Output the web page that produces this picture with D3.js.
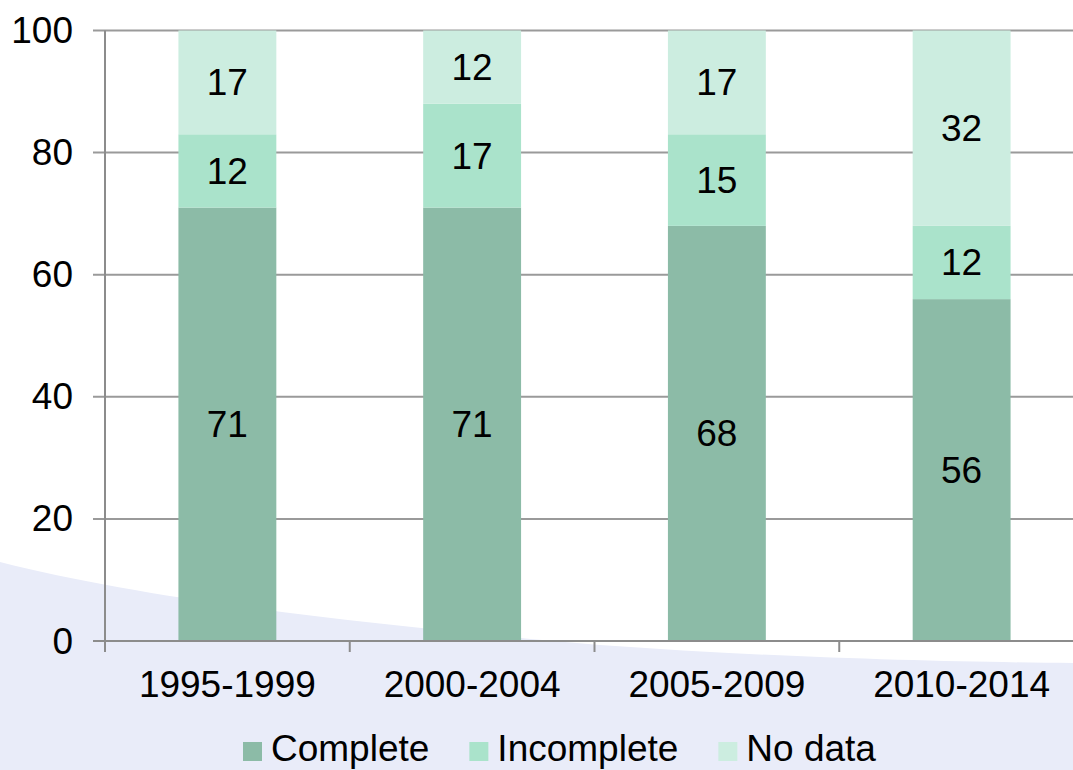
<!DOCTYPE html>
<html>
<head>
<meta charset="utf-8">
<script src="https://cdn.jsdelivr.net/npm/d3@7/dist/d3.min.js"></script>
<style>
  html, body { margin: 0; padding: 0; background: #ffffff; }
  svg { display: block; font-family: "Liberation Sans", Arial, sans-serif; }
</style>
</head>
<body>
<svg id="chart" width="1073" height="770"></svg>
<script>
// Share of records by data completeness, per five-year period
const periods = ["1995-1999", "2000-2004", "2005-2009", "2010-2014"];
const seriesNames = ["Complete", "Incomplete", "No data"];
const complete = [71, 71, 68, 56];
const incomplete = [12, 17, 15, 12];
const noData = [17, 12, 17, 32];
const yTicks = [0, 20, 40, 60, 80, 100];
const colors = ["#8cbba7", "#aae3cb", "#ccede0"];

const width = 1073, height = 770;
const plot = { left: 105, right: 1084, top: 30.5, bottom: 641 };
const fontSize = 37;

const svg = d3.select("#chart");

// soft lavender backdrop sweeping across the lower part of the page
svg.append("path")
  .attr("d", "M0,562 C150,600 360,624 600,645 C780,658 950,662 1073,663 L1073,770 L0,770 Z")
  .attr("fill", "#e9ecf9");

const table = periods.map((p, i) => ({
  period: p,
  "Complete": complete[i],
  "Incomplete": incomplete[i],
  "No data": noData[i]
}));

const stacked = d3.stack().keys(seriesNames)(table);

const x = d3.scaleBand()
  .domain(periods)
  .range([plot.left, plot.right])
  .paddingInner(0.6)
  .paddingOuter(0.3);

const y = d3.scaleLinear()
  .domain([0, 100])
  .range([plot.bottom, plot.top]);

// horizontal gridlines with short ticks to the left of the axis
const grid = svg.append("g");
grid.selectAll("line")
  .data(yTicks.filter(t => t > 0))
  .join("line")
  .attr("x1", plot.left - 12)
  .attr("x2", width)
  .attr("y1", d => y(d))
  .attr("y2", d => y(d))
  .attr("stroke", "#9a9a9a")
  .attr("stroke-width", 2);

// stacked bars
const layers = svg.append("g")
  .selectAll("g")
  .data(stacked)
  .join("g")
  .attr("fill", (d, i) => colors[i]);

layers.selectAll("rect")
  .data(d => d)
  .join("rect")
  .attr("x", d => x(d.data.period))
  .attr("width", x.bandwidth())
  .attr("y", d => y(d[1]))
  .attr("height", d => y(d[0]) - y(d[1]));

// value labels centred in each segment
layers.selectAll("text")
  .data(d => d.map(v => ({ v, key: d.key })))
  .join("text")
  .attr("x", d => x(d.v.data.period) + x.bandwidth() / 2)
  .attr("y", d => (y(d.v[0]) + y(d.v[1])) / 2 + 13)
  .attr("text-anchor", "middle")
  .attr("font-size", fontSize)
  .attr("fill", "#000")
  .text(d => d.v.data[d.key]);

// y axis
const yAxis = svg.append("g");
yAxis.append("line")
  .attr("x1", plot.left).attr("x2", plot.left)
  .attr("y1", y(100)).attr("y2", plot.bottom + 11)
  .attr("stroke", "#8c8c8c").attr("stroke-width", 2);
yAxis.selectAll("text")
  .data(yTicks)
  .join("text")
  .attr("x", 73)
  .attr("y", d => y(d) + 12.5)
  .attr("text-anchor", "end")
  .attr("font-size", fontSize)
  .attr("fill", "#000")
  .text(d => d);

// x axis baseline, boundary ticks and category labels
const xAxis = svg.append("g");
xAxis.append("line")
  .attr("x1", plot.left - 12).attr("x2", width)
  .attr("y1", plot.bottom).attr("y2", plot.bottom)
  .attr("stroke", "#8c8c8c").attr("stroke-width", 2);
xAxis.selectAll("line.tick")
  .data(periods.slice(1))
  .join("line")
  .attr("class", "tick")
  .attr("x1", d => x(d) - x.step() * x.paddingInner() / 2)
  .attr("x2", d => x(d) - x.step() * x.paddingInner() / 2)
  .attr("y1", plot.bottom).attr("y2", plot.bottom + 11)
  .attr("stroke", "#8c8c8c").attr("stroke-width", 2);
xAxis.selectAll("text")
  .data(periods)
  .join("text")
  .attr("x", d => x(d) + x.bandwidth() / 2)
  .attr("y", 697)
  .attr("text-anchor", "middle")
  .attr("font-size", fontSize)
  .attr("fill", "#000")
  .text(d => d);

// legend
const legend = svg.append("g");
let lx = 243;
seriesNames.forEach((name, i) => {
  legend.append("rect")
    .attr("x", lx).attr("y", 742)
    .attr("width", 19).attr("height", 19)
    .attr("fill", colors[i]);
  const t = legend.append("text")
    .attr("x", lx + 28).attr("y", 761)
    .attr("font-size", fontSize)
    .attr("fill", "#000")
    .text(name);
  lx += 28 + t.node().getComputedTextLength() + 40;
});
</script>
</body>
</html>
